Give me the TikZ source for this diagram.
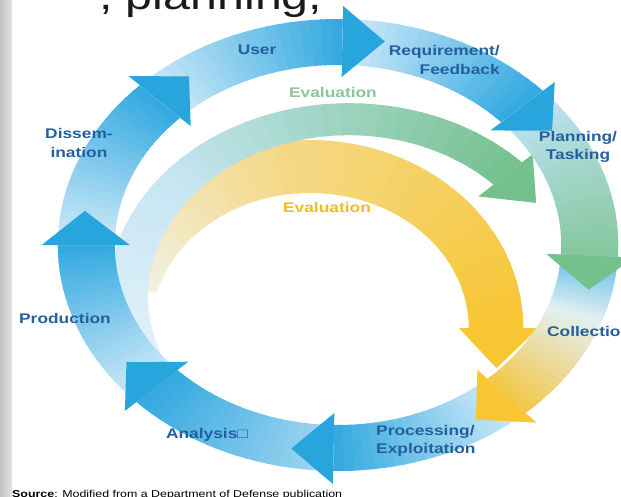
\documentclass[tikz,border=0pt]{standalone}
\usepackage{fontspec}
\setmainfont{Liberation Sans}
\newfontfamily\lblfont[FakeStretch=1.24]{Liberation Sans}
\definecolor{lbltext}{HTML}{245F9E}
\definecolor{ringlight}{HTML}{D4ECF9}
\definecolor{ringdark}{HTML}{33A9E0}
\definecolor{headblue}{HTML}{29A5DE}
\definecolor{planstart}{HTML}{BFE4F6}
\definecolor{planend}{HTML}{84C79C}
\definecolor{collstart}{HTML}{5DBAE6}
\definecolor{collmid}{HTML}{E3F0F2}
\definecolor{collend}{HTML}{F2C746}
\definecolor{analysisstart}{HTML}{A6D7F1}
\definecolor{evalgreen}{HTML}{74C18E}
\definecolor{evalyellow}{HTML}{F7C633}
\definecolor{greenfaint}{HTML}{E2F1F9}
\definecolor{greenlight}{HTML}{C6E6F3}
\definecolor{yellowfaint}{HTML}{F1F1E4}
\definecolor{yellowmid}{HTML}{F4D98A}
\definecolor{evaltxtgreen}{HTML}{90C39C}
\definecolor{evaltxtyellow}{HTML}{EFBD20}
\definecolor{titletext}{HTML}{1A1A1A}
\definecolor{stripdark}{HTML}{C2C2C2}
\definecolor{striplight}{HTML}{E4E4E4}

\tikzset{
  lbl/.style={font=\lblfont\fontsize{14}{18.5}\selectfont\bfseries, text=lbltext, inner sep=0pt, align=center},
}

% band between two ellipses, shaded along the arc
\newcommand\bandpart[9]{%
  \foreach \k in {0,...,19}{%
    \pgfmathsetmacro\aone{#6+((#7)-(#6))*\k/20}%
    \pgfmathsetmacro\atwo{#6+((#7)-(#6))*min(\k+1.15,20)/20}%
    \pgfmathtruncatemacro\pc{100-(100*\k+50)/20}%
    \fill[#8!\pc!#9] ([shift={(#1)}]\aone:#2 and #3) arc[start angle=\aone, end angle=\atwo, x radius=#2, y radius=#3]
      -- ([shift={(#1)}]\atwo:#4 and #5) arc[start angle=\atwo, end angle=\aone, x radius=#4, y radius=#5] -- cycle;
  }}
\newcommand\ringpart[4]{\bandpart{272.6,251}{226}{226}{180}{180}{#1}{#2}{#3}{#4}}
\newcommand\ringhead[2]{%
  \fill[#2] ([shift={(272.6,251)}]#1:239) -- ([shift={(272.6,251)}]{#1-9.5}:207) -- ([shift={(272.6,251)}]#1:168) -- cycle;}

\begin{document}
\begin{tikzpicture}[x=1.24pt,y=1pt]
  \useasboundingbox (0,0) rectangle (500.8,496);
  \fill[white] (0,0) rectangle (500.8,496);
  \shade[left color=stripdark, right color=striplight] (0,0) rectangle (9.7,496);

  \bandpart{250,168}{172}{188}{128}{135}{165}{100}{yellowfaint}{yellowmid}
  \bandpart{250,168}{172}{188}{128}{135}{100}{0}{yellowmid}{evalyellow}
  \fill[evalyellow] ([shift={(250,168)}]0:184 and 200) -- ([shift={(250,168)}]-14:155 and 166) -- ([shift={(250,168)}]0:120 and 127) -- cycle;

  \bandpart{281.4,198.8}{194}{194}{162}{162}{200}{140}{greenfaint}{greenlight}
  \bandpart{281.4,198.8}{194}{194}{162}{162}{140}{44}{greenlight}{evalgreen}
  \fill[evalgreen] ([shift={(281.4,198.8)}]44:206) -- ([shift={(281.4,198.8)}]32:178) -- ([shift={(281.4,198.8)}]44:145) -- cycle;

  \ringpart{-136}{-180}{ringlight}{ringdark}
  \ringpart{180}{135}{ringlight}{ringdark}
  \ringpart{135}{89}{ringlight}{ringdark}
  \ringpart{89}{43}{ringlight}{ringdark}
  \ringpart{43}{-3}{planstart}{planend}
  \ringpart{-3}{-20}{collstart}{collmid}
  \ringpart{-20}{-48}{collmid}{collend}
  \ringpart{-48}{-91}{ringlight}{ringdark}
  \ringpart{-91}{-136}{analysisstart}{ringdark}

  \ringhead{180}{headblue}
  \ringhead{135}{headblue}
  \ringhead{89}{headblue}
  \ringhead{43}{headblue}
  \ringhead{-3}{evalgreen}
  \ringhead{-48}{evalyellow}
  \ringhead{-91}{headblue}
  \ringhead{-136}{headblue}

  \node[lbl] (user) at (207.3,446) {User};
  \node[lbl, align=right, anchor=east] (req) at (403.2,436) {Requirement/\\Feedback};
  \node[lbl, text=evaltxtgreen] (evalouter) at (268.5,404) {Evaluation};
  \node[lbl] (plan) at (466.1,349) {Planning/\\Tasking};
  \node[lbl, anchor=west] (coll) at (441.1,165) {Collection};
  \node[lbl, align=left, anchor=west] (proc) at (303.2,55) {Processing/\\Exploitation};
  \node[lbl] (anal) at (166.9,61) {Analysis□};
  \node[lbl] (prod) at (52.4,178) {Production};
  \node[lbl] (diss) at (63.7,353) {Dissem-\\ination};
  \node[lbl, text=evaltxtyellow] (evalinner) at (263.7,289) {Evaluation};

  \node[anchor=base west, inner sep=0pt, font=\lblfont\fontsize{39}{39}\selectfont, text=titletext] (title) at (79.8,486.5) {, planning,};
  \node[anchor=base west, inner sep=0pt, font=\lblfont\fontsize{10}{12}\selectfont] (source) at (9.7,-1) {\textbf{Source}: Modified from a Department of Defense publication};
\end{tikzpicture}
\end{document}
